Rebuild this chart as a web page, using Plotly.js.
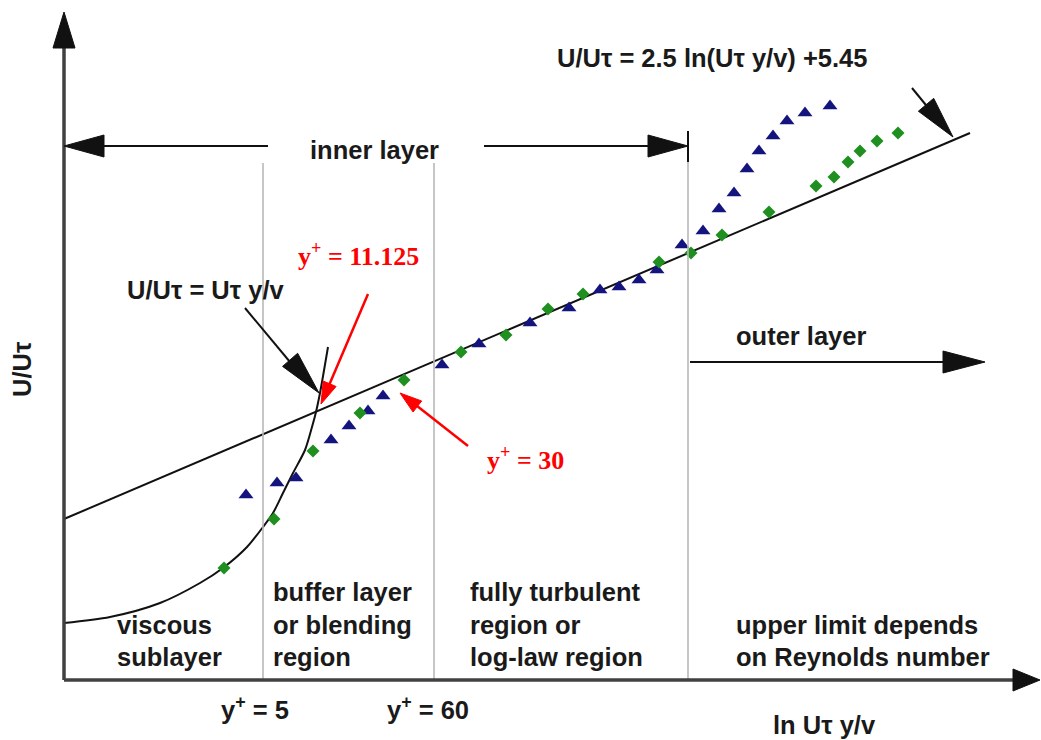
<!DOCTYPE html>
<html><head><meta charset="utf-8">
<script src="https://cdn.plot.ly/plotly-3.0.1.min.js"></script>
<style>body{margin:0;background:#fff}#c{width:1041px;height:740px}</style>
</head><body><div id="c"></div>
<script>
// ---- data (schematic units) ----
const lawX = [0, 90.6];
const lawY = [16.1, 54.7];
const viscX = [0.0, 4.6, 9.6, 13.6, 15.9, 18.3, 19.9, 20.9, 21.9, 22.9, 24.1, 24.8, 25.2, 25.6, 26.4];
const viscY = [5.7, 6.3, 7.7, 9.7, 11.2, 13.3, 15.3, 16.7, 18.7, 20.7, 23.0, 25.3, 26.8, 28.7, 33.3];
const blueX = [18.2,21.3,23.2,26.7,28.5,30.4,31.9,37.8,41.5,46.6,50.5,53.6,55.5,57.5,59.3,61.8,63.9,65.5,67.0,68.3,69.5,70.9,72.3,74.1,76.6];
const blueY = [18.5,19.7,20.2,24.0,25.4,26.9,28.4,31.5,33.6,35.7,37.2,39.0,39.3,40.0,41.0,43.5,44.9,47.1,48.7,51.1,52.9,54.4,55.9,56.7,57.4];
const greenX = [16.0,21.0,24.9,29.6,34.0,39.7,44.2,48.4,51.9,59.5,62.7,65.8,70.5,75.2,77.0,78.4,79.6,81.3,83.4];
const greenY = [11.2,16.1,22.9,26.7,30.0,32.8,34.5,37.1,38.6,41.8,42.7,44.5,46.8,49.4,50.3,51.8,52.9,53.9,54.7];

// ---- helpers for decoration placement (pixel -> axis units) ----
const X = px => (px - 64) / 10;
const Y = py => (680 - py) / 10;
const shapes = [];
function seg(x0, y0, x1, y1, color, w) {
  shapes.push({type:'line', xref:'x', yref:'y', x0:X(x0), y0:Y(y0), x1:X(x1), y1:Y(y1),
    line:{color:color, width:w}});
}
function head(tx, ty, fx, fy, len, hw, color) {
  const dx = tx - fx, dy = ty - fy, d = Math.hypot(dx, dy);
  const ux = dx / d, uy = dy / d;
  const bx = tx - ux * len, by = ty - uy * len;
  const px = -uy, py = ux;
  const p = [[tx, ty], [bx + px * hw, by + py * hw], [bx - px * hw, by - py * hw]];
  shapes.push({type:'path', xref:'x', yref:'y',
    path: 'M' + p.map(q => X(q[0]) + ',' + Y(q[1])).join(' L') + ' Z',
    fillcolor:color, line:{color:color, width:1}});
}
const AX = '#404040', GR = '#b8b8b8', BK = '#111', RD = '#ff0000';
// grey region separators
seg(263, 163, 263, 680, GR, 1.6);
seg(434, 163, 434, 680, GR, 1.6);
seg(688, 162, 688, 680, GR, 1.6);
seg(688, 131, 688, 162, BK, 2);
// axes
seg(64, 680, 64, 45, AX, 3.5); head(64, 12, 64, 60, 36, 11, BK);
seg(64, 680, 1015, 680, AX, 3.5); head(1040, 680, 1000, 680, 27, 11, BK);
// inner layer arrows
seg(100, 146, 268, 146, BK, 2); head(64, 146, 110, 146, 40, 11, BK);
seg(484, 146, 652, 146, BK, 2); head(688, 146, 640, 146, 40, 11, BK);
// outer layer arrow
seg(690, 362, 945, 362, BK, 2); head(985, 362, 940, 362, 42, 11, BK);
// equation pointers
seg(912, 88, 930, 110, BK, 2); head(953, 137, 912, 88, 42, 10, BK);
seg(245, 308, 295, 368, BK, 2); head(319, 393, 245, 308, 44, 10, BK);
// red pointers
seg(368, 294, 327, 390, RD, 2.5); head(321, 404, 368, 294, 22, 7, RD);
seg(468, 446, 412, 402, RD, 2.5); head(400, 393, 468, 446, 22, 7, RD);

const sans = {family:'Liberation Sans, Arial, sans-serif', size:25.5, color:'#1a1a1a'};
const red = {family:'Liberation Serif, Times New Roman, serif', size:26, color:RD};
const ann = [];
function txt(t, px, py, font, xa) {
  ann.push({text:t, x:X(px), y:Y(py), xref:'x', yref:'y', showarrow:false,
    xanchor:xa || 'left', yanchor:'middle', font:font});
}
const b = s => '<b>' + s + '</b>';
txt(b('U/Uτ = 2.5 ln(Uτ y/v) +5.45'), 555, 58, sans);
txt(b('inner layer'), 308, 150, sans);
txt(b('outer layer'), 734, 336, sans);
txt(b('U/Uτ = Uτ y/v'), 125, 290, sans);
txt(b('y<sup>+</sup> = 11.125'), 296, 254, red);
txt(b('y<sup>+</sup> = 30'), 485, 458, red);
txt(b('viscous'), 115, 625, sans);
txt(b('sublayer'), 115, 657, sans);
txt(b('buffer layer'), 271, 592, sans);
txt(b('or blending'), 271, 625, sans);
txt(b('region'), 271, 657, sans);
txt(b('fully turbulent'), 468, 592, sans);
txt(b('region or'), 468, 625, sans);
txt(b('log-law region'), 468, 657, sans);
txt(b('upper limit depends'), 734, 625, sans);
txt(b('on Reynolds number'), 734, 657, sans);
txt(b('y<sup>+</sup> = 5'), 219, 708, sans);
txt(b('y<sup>+</sup> = 60'), 385, 708, sans);
txt(b('ln Uτ y/v'), 771, 725, sans);
ann.push({text:b('U/Uτ'), x:X(22), y:Y(370), xref:'x', yref:'y', showarrow:false,
  textangle:-90, xanchor:'center', yanchor:'middle', font:sans});

const traces = [
  {x:lawX, y:lawY, mode:'lines', line:{color:BK, width:2}, hoverinfo:'skip'},
  {x:viscX, y:viscY, mode:'lines', line:{color:BK, width:2, shape:'spline', smoothing:0.8}, hoverinfo:'skip'},
  {x:blueX, y:blueY, mode:'markers', marker:{symbol:'triangle-up', size:13, color:'#14147f'}},
  {x:greenX, y:greenY, mode:'markers', marker:{symbol:'diamond', size:10, color:'#1f8f1f'}}
];
const layout = {
  width:1041, height:740, margin:{l:0, r:0, t:0, b:0, pad:0},
  paper_bgcolor:'#fff', plot_bgcolor:'#fff', showlegend:false,
  xaxis:{range:[X(0), X(1041)], visible:false, fixedrange:true},
  yaxis:{range:[Y(740), Y(0)], visible:false, fixedrange:true},
  shapes:shapes, annotations:ann
};
Plotly.newPlot('c', traces, layout, {staticPlot:true, displayModeBar:false});
</script></body></html>
